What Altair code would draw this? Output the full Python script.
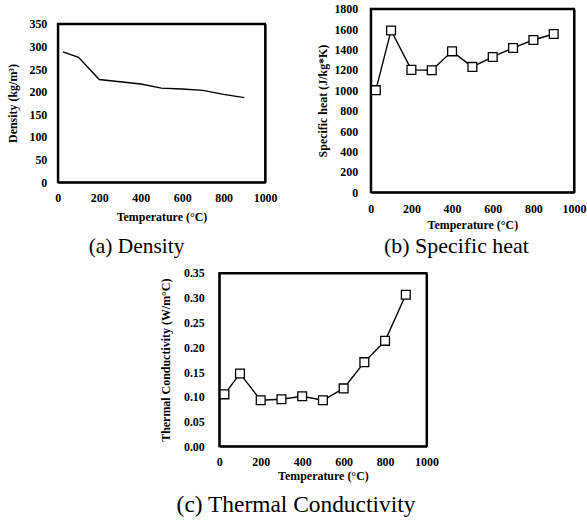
import altair as alt
import pandas as pd

temperature = [25, 100, 200, 300, 400, 500, 600, 700, 800, 900]
density = [288, 276, 227, 222, 217, 208, 206, 203, 194, 187]
specific_heat = [1002, 1588, 1201, 1198, 1383, 1230, 1328, 1416, 1494, 1553]
conductivity = [0.105, 0.147, 0.093, 0.095, 0.101, 0.093, 0.117, 0.170, 0.213, 0.306]

x_ticks = [0, 200, 400, 600, 800, 1000]
density_ticks = [0, 50, 100, 150, 200, 250, 300, 350]
sh_ticks = [0, 200, 400, 600, 800, 1000, 1200, 1400, 1600, 1800]
tc_ticks = [0.0, 0.05, 0.10, 0.15, 0.20, 0.25, 0.30, 0.35]

FONT = "Liberation Serif"


def panel(values, ytitle, yticks, yfmt, w, h, caption, markers,
          ylab_pad, ytitle_pad, xlab_pad, xtitle_pad, cap_offset, cap_dx, cap_size):
    df = pd.DataFrame({"t": temperature, "v": values})
    xscale = alt.Scale(domain=[0, 1000], nice=False, zero=False)
    yscale = alt.Scale(domain=[yticks[0], yticks[-1]], nice=False, zero=True)
    xaxis = alt.Axis(values=x_ticks, ticks=False, domain=True, domainColor="black",
                     domainWidth=2, grid=False, format="d",
                     labelFont=FONT, labelFontSize=12, labelFontWeight="bold",
                     labelColor="black", labelFlush=False, labelOverlap=False,
                     labelPadding=xlab_pad, titlePadding=xtitle_pad,
                     titleFont=FONT, titleFontSize=12, titleFontWeight="bold",
                     titleColor="black", title="Temperature (\u00b0C)")
    yaxis = alt.Axis(values=yticks, ticks=False, domain=True, domainColor="black",
                     domainWidth=2, grid=False,
                     labelFont=FONT, labelFontSize=12, labelFontWeight="bold",
                     labelColor="black", labelFlush=False, labelOverlap=False,
                     labelPadding=ylab_pad, titlePadding=ytitle_pad, format=yfmt,
                     titleFont=FONT, titleFontSize=12, titleFontWeight="bold",
                     titleColor="black", title=ytitle)
    xtop = alt.Axis(orient="top", values=x_ticks, labels=False, domain=True,
                    domainColor="black", domainWidth=2, ticks=False,
                    grid=False, title=None)
    yright = alt.Axis(orient="right", values=yticks, labels=False, domain=True,
                      domainColor="black", domainWidth=2, ticks=False,
                      grid=False, title=None)
    base = alt.Chart(df)
    line = base.mark_line(color="black", strokeWidth=1.4).encode(
        x=alt.X("t:Q", scale=xscale, axis=xaxis),
        y=alt.Y("v:Q", scale=yscale, axis=yaxis))
    border = base.mark_line(opacity=0).encode(
        x=alt.X("t:Q", scale=xscale, axis=xtop),
        y=alt.Y("v:Q", scale=yscale, axis=yright))
    layers = [line, border]
    if markers:
        pts = base.mark_point(shape="square", size=78, filled=True, fill="white",
                              stroke="black", strokeWidth=1.3, opacity=1).encode(
            x=alt.X("t:Q", scale=xscale, axis=None),
            y=alt.Y("v:Q", scale=yscale, axis=None))
        layers.append(pts)
    return alt.layer(*layers).resolve_axis(x="independent", y="independent").properties(
        width=w, height=h,
        title=alt.TitleParams(caption, orient="bottom", anchor="middle",
                              frame="group", dx=cap_dx, offset=cap_offset,
                              font=FONT, fontSize=cap_size, fontWeight="normal",
                              color="black"),
    )


a = panel(density, "Density (kg/m\u00b3)", density_ticks, "d", 208, 159,
          "(a) Density", False, 11, 9, 10, 8, 14, -25, 21.5)
b = panel(specific_heat, "Specific heat (J/kg*K)", sh_ticks, "d", 204, 184,
          "(b) Specific heat", True, 13, 4, 11, 5, 6, -16, 22)
c = panel(conductivity, "Thermal Conductivity (W/m\u00b0C)", tc_ticks, ".2f", 208, 174,
          "(c) Thermal Conductivity", True, 15, 11, 10, 3, 12, -27, 23.5)


def spacer(w, h):
    return alt.Chart(pd.DataFrame({"s": [0]})).mark_point(opacity=0, size=1).encode(
        x=alt.value(w / 2), y=alt.value(h / 2)).properties(
        width=w, height=h,
        view=alt.ViewBackground(stroke="white", strokeOpacity=0, strokeWidth=0))


left = alt.vconcat(spacer(208, 8), a, spacing=0)
top = alt.hconcat(left, b, spacing=38)
bottom = alt.hconcat(spacer(101, 20), c, spacing=0)
chart = alt.vconcat(top, bottom, spacing=7).properties(
    padding={"left": 6, "top": 1, "right": 0, "bottom": 0}
).configure(background="white").configure_view(stroke="black", strokeWidth=2)

chart.save("out.html", embed_options={"renderer": "svg", "actions": False})
